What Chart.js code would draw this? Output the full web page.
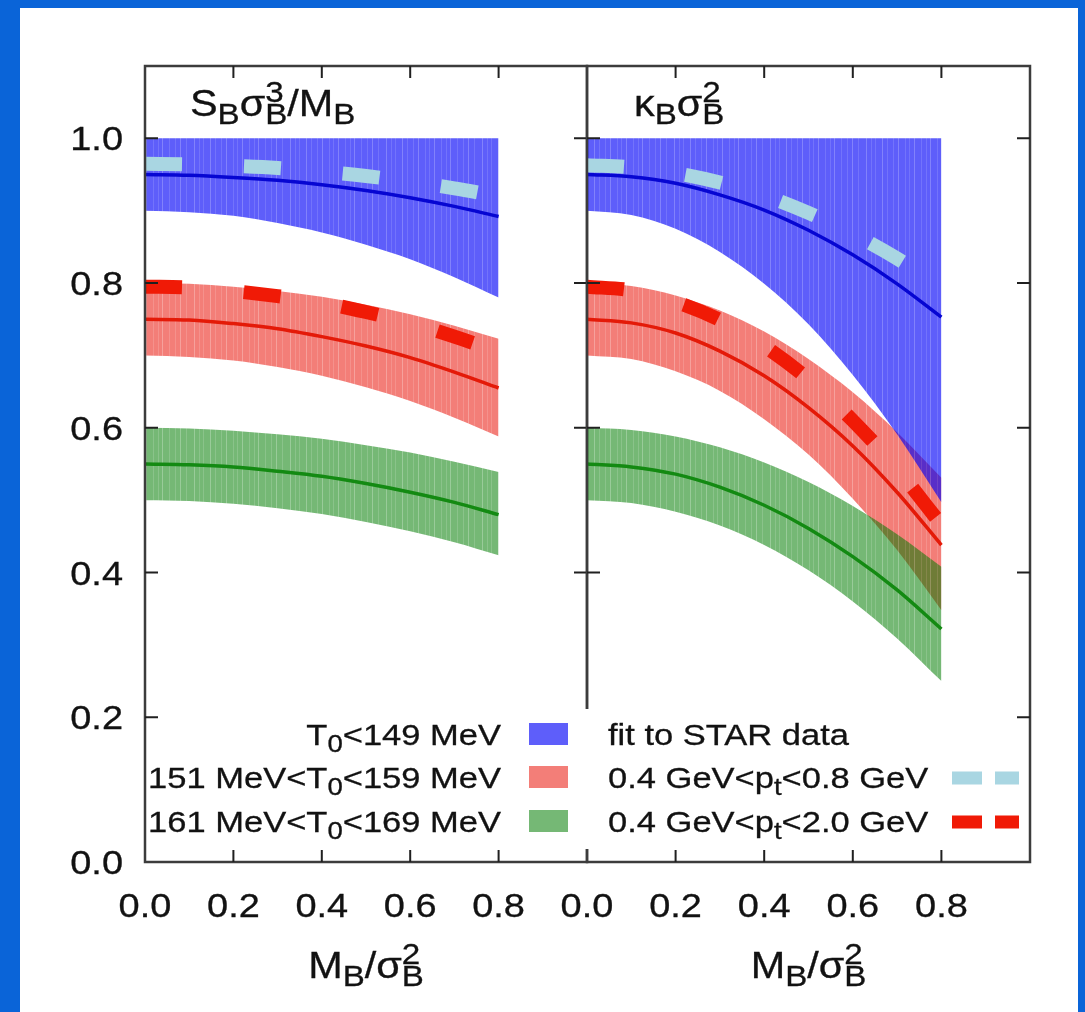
<!DOCTYPE html>
<html>
<head>
<meta charset="utf-8">
<title>Skewness and kurtosis ratios vs M_B/sigma_B^2</title>
<script src="https://cdn.jsdelivr.net/npm/chart.js@4.4.1/dist/chart.umd.min.js"></script>
<style>
  html, body { margin: 0; padding: 0; background: #0a64d8; overflow: hidden; }
  #sheet { position: absolute; left: 20px; top: 8px; width: 1058px; height: 1004px; background: #ffffff; }
  canvas { position: absolute; left: 0; top: 0; }
</style>
</head>
<body>
<div id="sheet"></div>
<canvas id="skewChart" width="1085" height="1012"></canvas>
<canvas id="kurtChart" width="1085" height="1012"></canvas>
<script>
// ---------------- data ----------------
const massRatio = [0, 0.1, 0.2, 0.3, 0.4, 0.5, 0.6, 0.7, 0.8];   // M_B / sigma_B^2

// S_B sigma_B^3 / M_B
const skewBlueHi   = [1.000, 1.000, 1.000, 1.000, 1.000, 1.000, 1.000, 1.000, 1.000];
const skewBlueLo   = [0.900, 0.898, 0.893, 0.883, 0.870, 0.853, 0.833, 0.808, 0.780];
const skewBlueMid  = [0.950, 0.949, 0.946, 0.942, 0.936, 0.928, 0.918, 0.906, 0.892];
const skewRedHi    = [0.800, 0.799, 0.795, 0.789, 0.781, 0.770, 0.757, 0.741, 0.723];
const skewRedMid   = [0.750, 0.749, 0.744, 0.737, 0.726, 0.713, 0.697, 0.677, 0.655];
const skewRedLo    = [0.700, 0.698, 0.693, 0.684, 0.672, 0.656, 0.637, 0.614, 0.588];
const skewGreenHi  = [0.600, 0.599, 0.596, 0.591, 0.585, 0.576, 0.566, 0.553, 0.539];
const skewGreenMid = [0.550, 0.549, 0.546, 0.540, 0.533, 0.523, 0.511, 0.497, 0.480];
const skewGreenLo  = [0.500, 0.499, 0.495, 0.489, 0.481, 0.470, 0.457, 0.442, 0.424];
const skewStarLowPt  = [0.965, 0.964, 0.962, 0.959, 0.954, 0.948, 0.940, 0.931, 0.920];
const skewStarWidePt = [0.795, 0.794, 0.789, 0.782, 0.773, 0.760, 0.745, 0.726, 0.705];

// kappa_B sigma_B^2
const kurtBlueHi   = [1.000, 1.000, 1.000, 1.000, 1.000, 1.000, 1.000, 1.000, 1.000];
const kurtBlueLo   = [0.900, 0.894, 0.875, 0.843, 0.799, 0.743, 0.673, 0.591, 0.497];
const kurtBlueMid  = [0.950, 0.947, 0.938, 0.922, 0.901, 0.873, 0.839, 0.799, 0.753];
const kurtRedHi    = [0.800, 0.796, 0.783, 0.762, 0.733, 0.695, 0.649, 0.594, 0.531];
const kurtRedMid   = [0.750, 0.745, 0.731, 0.706, 0.672, 0.628, 0.575, 0.511, 0.438];
const kurtRedLo    = [0.700, 0.695, 0.678, 0.651, 0.612, 0.563, 0.502, 0.431, 0.348];
const kurtGreenHi  = [0.600, 0.597, 0.588, 0.573, 0.552, 0.525, 0.492, 0.453, 0.408];
const kurtGreenMid = [0.550, 0.546, 0.536, 0.518, 0.493, 0.461, 0.422, 0.376, 0.322];
const kurtGreenLo  = [0.500, 0.496, 0.484, 0.465, 0.438, 0.403, 0.360, 0.309, 0.250];
const kurtStarLowPt  = [0.963, 0.960, 0.952, 0.939, 0.921, 0.897, 0.868, 0.834, 0.794];
const kurtStarWidePt = [0.795, 0.790, 0.774, 0.749, 0.713, 0.667, 0.610, 0.543, 0.466];

// axes
const xTickLabels = [0.0, 0.2, 0.4, 0.6, 0.8];
const yTickLabels = [0.0, 0.2, 0.4, 0.6, 0.8, 1.0];
const xRange = [0, 1.0];
const yRange = [0, 1.1];

// titles and key entries (plain strings, {sub, sup} for indices)
const skewTitle = ['S', {sub: 'B'}, 'σ', {sub: 'B', sup: '3'}, '/M', {sub: 'B'}];
const kurtTitle = ['κ', {sub: 'B'}, 'σ', {sub: 'B', sup: '2'}];
const xTitle = ['M', {sub: 'B'}, '/σ', {sub: 'B', sup: '2'}];
const bandLabels = [
  ['T', {sub: '0'}, '<149 MeV'],
  ['151 MeV<T', {sub: '0'}, '<159 MeV'],
  ['161 MeV<T', {sub: '0'}, '<169 MeV']
];
const curveLabels = [
  ['fit to STAR data'],
  ['0.4 GeV<p', {sub: 't'}, '<0.8 GeV'],
  ['0.4 GeV<p', {sub: 't'}, '<2.0 GeV']
];

// ---------------- layout & style ----------------
const W = 1085, H = 1012;
const PLOT_TOP = 66, PLOT_BOTTOM = 862;
const FONT = '"Liberation Sans", Arial, sans-serif';
const SX = 1.15;                 // horizontal text stretch
const TEXT = '#121212';
const FRAME = '#3c3c3c';
const TICK_LEN = 13;
const TICK_FONT = 33, TITLE_FONT = 36, AXIS_TITLE_FONT = 36;

const BLUE_RGB = '0,0,247', BLUE_A = 0.63;
const RED_RGB = '232,12,0', RED_A = 0.53;
const GREEN_RGB = '0,124,0', GREEN_A = 0.54;

const KEY = {
  left: 162, top: 709, right: 1015, bottom: 849,
  textRight: 501, swatchX: 529, swatchW: 39, swatchH: 22,
  col2X: 608, sampleX0: 952, sampleX1: 1019, baselines: [745, 788, 832], size: 30
};

// ---------------- helpers ----------------
function font(size) { return size + 'px ' + FONT; }

function partsWidth(ctx, parts, size) {
  let w = 0;
  for (const p of parts) {
    if (typeof p === 'string') { ctx.font = font(size); w += ctx.measureText(p).width; }
    else {
      ctx.font = font(size * 0.8);
      w += Math.max(p.sub ? ctx.measureText(p.sub).width : 0, p.sup ? ctx.measureText(p.sup).width : 0);
    }
  }
  return w * SX;
}

function putText(ctx, t, x, y) {
  ctx.fillText(t, x, y);
  ctx.strokeText(t, x, y);
}

function drawParts(ctx, parts, x, baseline, size, align) {
  const w = partsWidth(ctx, parts, size);
  const x0 = align === 'right' ? x - w : align === 'center' ? x - w / 2 : x;
  ctx.save();
  ctx.translate(x0, baseline);
  ctx.scale(SX, 1);
  ctx.fillStyle = TEXT;
  ctx.strokeStyle = TEXT;
  ctx.lineWidth = 0.3;
  ctx.textAlign = 'left';
  ctx.textBaseline = 'alphabetic';
  let cx = 0;
  for (const p of parts) {
    if (typeof p === 'string') {
      ctx.font = font(size);
      putText(ctx, p, cx, 0);
      cx += ctx.measureText(p).width;
    } else {
      ctx.font = font(size * 0.8);
      let adv = 0;
      if (p.sub) { putText(ctx, p.sub, cx, size * 0.22); adv = Math.max(adv, ctx.measureText(p.sub).width); }
      if (p.sup) { putText(ctx, p.sup, cx, -size * 0.38); adv = Math.max(adv, ctx.measureText(p.sup).width); }
      cx += adv;
    }
  }
  ctx.restore();
}

// vertically streaked fill used for the temperature bands
const STREAKS = [2, 7, 11, 18, 23, 29, 34, 41, 45, 50, 57, 62, 66, 73, 79, 84, 90];
function bandFill(ctx, rgb, alpha) {
  const c = document.createElement('canvas');
  c.width = 96; c.height = 4;
  const g = c.getContext('2d');
  g.fillStyle = 'rgba(' + rgb + ',' + alpha + ')';
  g.fillRect(0, 0, c.width, c.height);
  STREAKS.forEach(function (sx, i) {
    g.clearRect(sx, 0, 1, c.height);
    g.fillStyle = 'rgba(' + rgb + ',' + (alpha - (i % 3 === 0 ? 0.14 : 0.08)) + ')';
    g.fillRect(sx, 0, 1, c.height);
  });
  return ctx.createPattern(c, 'repeat');
}

function pts(ys) { return massRatio.map(function (x, i) { return {x: x, y: ys[i]}; }); }

const NONE = 'rgba(0,0,0,0)';

function buildDatasets(ctx, s) {
  const band = function (hi, lo, rgb, a, order, name) {
    return [
      {label: name + ' upper', data: pts(hi), fill: '+1', backgroundColor: bandFill(ctx, rgb, a),
       borderColor: NONE, borderWidth: 0, order: order},
      {label: name + ' lower', data: pts(lo), fill: false, borderColor: NONE, borderWidth: 0, order: order}
    ];
  };
  const line = function (ys, color, name) {
    return {label: name, data: pts(ys), borderColor: color, borderWidth: 3.5, fill: false, order: 2};
  };
  const dashed = function (ys, color, name) {
    return {label: name, data: pts(ys), borderColor: color, borderWidth: 14, borderDash: [37, 62],
            borderCapStyle: 'butt', fill: false, order: 1};
  };
  return [].concat(
    band(s.blueHi, s.blueLo, BLUE_RGB, BLUE_A, 4, 'T0<149'),
    band(s.redHi, s.redLo, RED_RGB, RED_A, 5, '151<T0<159'),
    band(s.greenHi, s.greenLo, GREEN_RGB, GREEN_A, 4, '161<T0<169'),
    [line(s.blueMid, '#0606d2', 'T0<149 central'),
     line(s.redMid, '#e41a08', '151<T0<159 central'),
     line(s.greenMid, '#138a12', '161<T0<169 central'),
     dashed(s.starLow, '#a9d6e2', '0.4<pt<0.8'),
     dashed(s.starWide, '#f01a06', '0.4<pt<2.0')]
  );
}

// frame, inward ticks, tick labels, titles and (optionally) the key
const panelDecor = {
  id: 'panelDecor',
  afterDatasetsDraw: function (chart, args, opts) {
    const ctx = chart.ctx, a = chart.chartArea, x = chart.scales.x, y = chart.scales.y;
    ctx.save();
    ctx.strokeStyle = FRAME;
    ctx.lineWidth = 2.5;
    ctx.strokeRect(a.left, a.top, a.right - a.left, a.bottom - a.top);
    ctx.lineWidth = 2;
    ctx.strokeStyle = '#202020';
    ctx.beginPath();
    xTickLabels.forEach(function (v) {
      if (v <= 0 || v >= 1) return;
      const px = x.getPixelForValue(v);
      ctx.moveTo(px, a.bottom); ctx.lineTo(px, a.bottom - TICK_LEN + 1);
      ctx.moveTo(px, a.top); ctx.lineTo(px, a.top + TICK_LEN - 1);
    });
    yTickLabels.forEach(function (v) {
      if (v <= 0) return;
      const py = y.getPixelForValue(v);
      ctx.moveTo(a.left, py); ctx.lineTo(a.left + TICK_LEN, py);
      ctx.moveTo(a.right, py); ctx.lineTo(a.right - TICK_LEN, py);
    });
    ctx.stroke();
    ctx.restore();
  },
  afterDraw: function (chart, args, opts) {
    const ctx = chart.ctx, a = chart.chartArea, x = chart.scales.x, y = chart.scales.y;
    xTickLabels.forEach(function (v) {
      drawParts(ctx, [v.toFixed(1)], x.getPixelForValue(v), 917, TICK_FONT, 'center');
    });
    if (opts.yLabels) {
      yTickLabels.forEach(function (v) {
        drawParts(ctx, [v.toFixed(1)], a.left - 22, y.getPixelForValue(v) + 12, TICK_FONT, 'right');
      });
    }
    drawParts(ctx, opts.title, a.left + opts.titleInset, 116, TITLE_FONT, 'left');
    drawParts(ctx, xTitle, (a.left + a.right) / 2, 978, AXIS_TITLE_FONT, 'center');
    if (opts.key) drawKey(ctx, chart);
  }
};

function drawKey(ctx, chart) {
  ctx.save();
  ctx.fillStyle = '#ffffff';
  ctx.fillRect(KEY.left, KEY.top, KEY.right - KEY.left, KEY.bottom - KEY.top);
  ctx.restore();
  const swatches = ['rgba(' + BLUE_RGB + ',' + BLUE_A + ')',
                    'rgba(' + RED_RGB + ',' + RED_A + ')',
                    'rgba(' + GREEN_RGB + ',' + GREEN_A + ')'];
  const ds = chart.data.datasets;
  const samples = [null, ds[9], ds[10]];
  KEY.baselines.forEach(function (b, i) {
    drawParts(ctx, bandLabels[i], KEY.textRight, b, KEY.size, 'right');
    ctx.fillStyle = swatches[i];
    ctx.fillRect(KEY.swatchX, b - KEY.swatchH, KEY.swatchW, KEY.swatchH);
    drawParts(ctx, curveLabels[i], KEY.col2X, b, KEY.size, 'left');
    const s = samples[i];
    if (s) {
      ctx.save();
      ctx.strokeStyle = s.borderColor;
      ctx.lineWidth = 13;
      ctx.lineCap = 'butt';
      ctx.setLineDash([30, 13]);
      ctx.beginPath();
      ctx.moveTo(KEY.sampleX0, b - 10);
      ctx.lineTo(KEY.sampleX1, b - 10);
      ctx.stroke();
      ctx.restore();
    }
  });
}

function makeChart(canvasId, series, panel, decor) {
  const canvas = document.getElementById(canvasId);
  const ctx = canvas.getContext('2d');
  return new Chart(ctx, {
    type: 'line',
    data: {datasets: buildDatasets(ctx, series)},
    options: {
      responsive: false,
      animation: false,
      events: [],
      devicePixelRatio: 1,
      layout: {padding: {left: panel.left, right: W - panel.right, top: PLOT_TOP, bottom: H - PLOT_BOTTOM}},
      elements: {point: {radius: 0}, line: {cubicInterpolationMode: 'monotone'}},
      plugins: {legend: {display: false}, tooltip: {enabled: false}, panelDecor: decor},
      scales: {
        x: {type: 'linear', min: xRange[0], max: xRange[1], display: false},
        y: {type: 'linear', min: yRange[0], max: yRange[1], display: false}
      }
    },
    plugins: [panelDecor]
  });
}

makeChart('skewChart', {
  blueHi: skewBlueHi, blueLo: skewBlueLo, blueMid: skewBlueMid,
  redHi: skewRedHi, redLo: skewRedLo, redMid: skewRedMid,
  greenHi: skewGreenHi, greenLo: skewGreenLo, greenMid: skewGreenMid,
  starLow: skewStarLowPt, starWide: skewStarWidePt
}, {left: 145, right: 587}, {yLabels: true, title: skewTitle, titleInset: 45, key: false});

makeChart('kurtChart', {
  blueHi: kurtBlueHi, blueLo: kurtBlueLo, blueMid: kurtBlueMid,
  redHi: kurtRedHi, redLo: kurtRedLo, redMid: kurtRedMid,
  greenHi: kurtGreenHi, greenLo: kurtGreenLo, greenMid: kurtGreenMid,
  starLow: kurtStarLowPt, starWide: kurtStarWidePt
}, {left: 587, right: 1030}, {yLabels: false, title: kurtTitle, titleInset: 47, key: true});
</script>
</body>
</html>
